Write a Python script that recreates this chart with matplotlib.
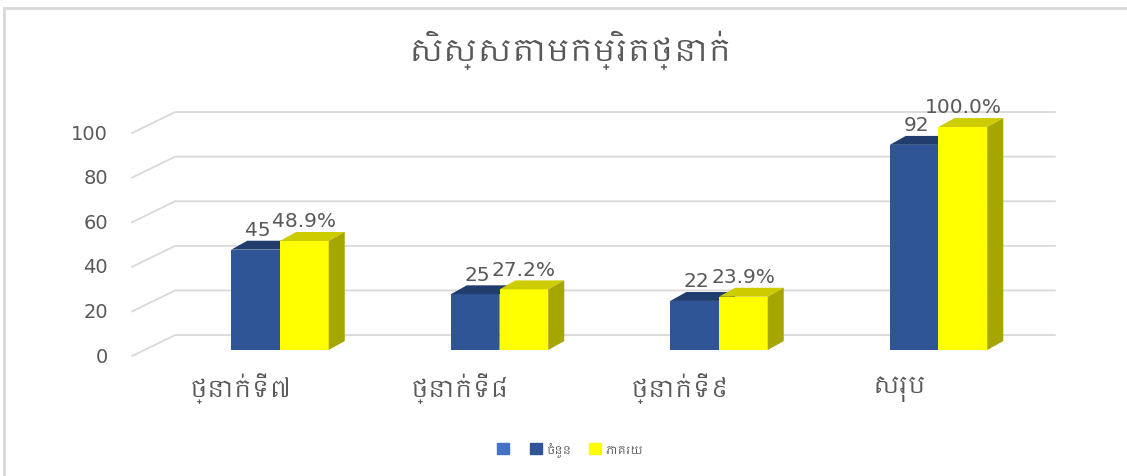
import numpy as np
import matplotlib
matplotlib.use('Agg')
import matplotlib.pyplot as plt
from matplotlib.patches import Polygon, Patch
from matplotlib import font_manager

# data
categories = ['ថ្នាក់ទី៧', 'ថ្នាក់ទី៨', 'ថ្នាក់ទី៩', 'សរុប']
counts = [45, 25, 22, 92]
percents = [48.9, 27.2, 23.9, 100.0]
yticks = [0, 20, 40, 60, 80, 100]
title = 'សិស្សតាមកម្រិតថ្នាក់'
legend_labels = ['', 'ចំនួន', 'ភាគរយ']

# font with khmer glyphs if there is one
khmer = [f.name for f in font_manager.fontManager.ttflist if 'khmer' in f.name.lower()]
fams = (khmer[:1] if khmer else []) + ['DejaVu Sans']
plt.rcParams['font.family'] = fams

fig = plt.figure(figsize=(11.27, 4.77), dpi=100)
ax = fig.add_axes([0, 0, 1, 1])
# 1 category = 219.5 px, 1 unit = 2.23 px
ax.set_xlim(-280 / 219.5, (1127 - 280) / 219.5)
ax.set_ylim(-126 / 2.23, 351 / 2.23)
ax.axis('off')

grid_c = '#D9D9D9'
txt_c = '#595959'
# floor / wall geometry in data units
xf, xb, xr = -0.674, -0.478, 3.53
yf, yb = -2.7, 6.7
for v in yticks:
    ax.plot([xf, xb, xr], [v + yf, v + yb, v + yb], color=grid_c, lw=1.3, zorder=1)
    ax.text(-0.784, v + yf, str(v), ha='right', va='center', fontsize=14,
            color=txt_c, family='DejaVu Sans')

x = np.arange(len(categories))
w = 0.222
dx, dy = 0.073, 4.0

def bar3d(x0, vals, front, top, side, z):
    ax.bar(x0, vals, width=w, align='edge', color=front, zorder=z, lw=0)
    for xi, h in zip(x0, vals):
        ax.add_patch(Polygon([(xi, h), (xi + w, h), (xi + w + dx, h + dy), (xi + dx, h + dy)],
                             closed=True, color=top, lw=0, zorder=z))
        ax.add_patch(Polygon([(xi + w, 0), (xi + w + dx, dy), (xi + w + dx, h + dy), (xi + w, h)],
                             closed=True, color=side, lw=0, zorder=z))

bar3d(x - w, counts, '#2F5597', '#203D6E', '#1F3864', 2)
bar3d(x, percents, '#FFFF00', '#CCCC00', '#A6A600', 3)

for xi, c, p in zip(x, counts, percents):
    ax.text(xi - w / 2 + 0.01, c + dy + 0.8, str(c), ha='center', va='bottom',
            fontsize=14.5, color=txt_c, family='DejaVu Sans', zorder=5)
    ax.text(xi + w / 2, p + dy + 0.8, f'{p:.1f}%', ha='center', va='bottom',
            fontsize=14.5, color=txt_c, family='DejaVu Sans', zorder=5)

for xi, lab in zip(x, categories):
    ax.text(xi - 0.18, -17, lab, ha='center', va='center', fontsize=17, color=txt_c)

ax.text((570 - 280) / 219.5, (351 - 50) / 2.23, title, ha='center', va='center',
        fontsize=22, color=txt_c)

# frame
ax.plot([-276 / 219.5, (1127 - 280) / 219.5], [(351 - 9) / 2.23] * 2, color=grid_c, lw=2, zorder=0)
ax.plot([-276 / 219.5] * 2, [(351 - 9) / 2.23, -126 / 2.23], color=grid_c, lw=2, zorder=0)

handles = [Patch(color='#4472C4'), Patch(color='#2F5597'), Patch(color='#FFFF00')]
fig.legend(handles, legend_labels, ncol=3, loc='center', bbox_to_anchor=(570 / 1127, 1 - 450 / 477),
           frameon=False, fontsize=8, labelcolor=txt_c, handlelength=1.1, handleheight=1.1,
           columnspacing=1.5, handletextpad=0.4)

fig.savefig('out.png', dpi=100)
